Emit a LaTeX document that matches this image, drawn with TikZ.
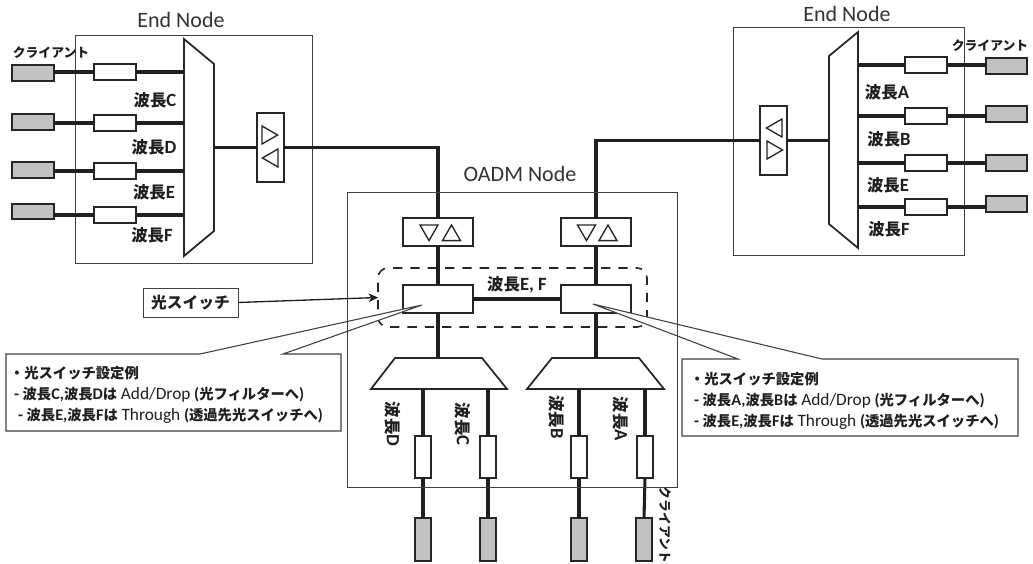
\documentclass[tikz,border=0pt]{standalone}
\usepackage{fontspec}
\setmainfont{Carlito}
\newfontfamily\jpfont[Scale=0.88]{Noto Sans CJK JP}
\usetikzlibrary{shapes.geometric, arrows, arrows.meta, positioning}
\newcommand{\jp}[1]{{\jpfont\bfseries #1}}
\newcommand{\latinnote}[1]{{\mdseries\fontsize{13}{15.6}\selectfont #1}}

\begin{document}
\begin{tikzpicture}[
    x=0.75pt, y=-0.75pt,
    every node/.style={inner sep=0pt, outer sep=0pt, align=center, text=black!88},
    title/.style={font=\fontsize{16.5}{20}\selectfont, text=black!80},
    framebox/.style={rectangle, draw=black!75, line width=0.7pt},
    clientbox/.style={rectangle, draw=black!85, fill=black!24, line width=1.5pt},
    filterbox/.style={rectangle, draw=black!85, fill=white, line width=1.3pt},
    ampbox/.style={rectangle, draw=black!85, fill=white, line width=1.3pt},
    tri/.style={regular polygon, regular polygon sides=3, inner sep=1pt, minimum size=15.6pt, draw=black!85, line width=1pt},
    muxshape/.style={draw=black!85, fill=white, line width=1.3pt},
    wave/.style={font=\bfseries\fontsize{14}{16}\selectfont},
    clientlabel/.style={font=\jpfont\bfseries\fontsize{10.9}{13}\selectfont},
    calloutbox/.style={draw=black!75, fill=white, line width=0.8pt},
    callouttext/.style={align=left, font=\bfseries\fontsize{12.2}{15.6}\selectfont},
    fiber/.style={draw=black!88, line width=2.3pt},
    arrow/.style={draw=black!88, line width=1pt, -{Stealth[length=7pt, width=6.5pt, inset=2pt]}}
]
\useasboundingbox (0,0) rectangle (1033,564);

% Frames of the three sites
\node[framebox, minimum width=177.75pt, minimum height=171pt] (endL) at (193.5,149) {};
\node[title] (titleL) at (181,20) {End Node};
\node[framebox, minimum width=173.25pt, minimum height=171pt] (endR) at (848.5,141) {};
\node[title] (titleR) at (847,14) {End Node};
\node[title] (titleM) at (520,174) {OADM Node};

% Left end node
\coordinate (muxLa) at (184,39);
\coordinate (muxLb) at (214,64);
\coordinate (muxLc) at (214,231);
\coordinate (muxLd) at (184,256);
\draw[muxshape] (muxLa) -- (muxLb) -- (muxLc) -- (muxLd) -- cycle;
\node[ampbox, minimum width=20.25pt, minimum height=51.75pt] (ampL) at (270.5,147.5) {};
\node[tri, rotate=-90] (triL1) at (267.2,135) {};
\node[tri, rotate=90] (triL2) at (272.8,158) {};
\node[filterbox, minimum width=31.5pt, minimum height=11.5pt] (filterL1) at (115,72) {};
\node[filterbox, minimum width=31.5pt, minimum height=11.5pt] (filterL2) at (115,123) {};
\node[filterbox, minimum width=31.5pt, minimum height=11.5pt] (filterL3) at (115,171) {};
\node[filterbox, minimum width=31.5pt, minimum height=11.5pt] (filterL4) at (115,215) {};
\node[clientbox, minimum width=31.5pt, minimum height=11.5pt, left=30pt of filterL1, yshift=-0.75pt] (clientL1) {};
\node[clientbox, minimum width=31.5pt, minimum height=11.5pt, left=30pt of filterL2, yshift=0.75pt] (clientL2) {};
\node[clientbox, minimum width=31.5pt, minimum height=11.5pt, left=30pt of filterL3, yshift=0.75pt] (clientL3) {};
\node[clientbox, minimum width=31.5pt, minimum height=11.5pt, left=30pt of filterL4, yshift=2.6pt] (clientL4) {};
\node[clientlabel] (clientlabelL) at (51,53) {クライアント};
\node[wave] (waveLC) at (155,100) {\jp{波長}C};
\node[wave] (waveLD) at (154,147) {\jp{波長}D};
\node[wave] (waveLE) at (154,192) {\jp{波長}E};
\node[wave] (waveLF) at (152,235) {\jp{波長}F};

% Right end node
\coordinate (muxRa) at (858,32);
\coordinate (muxRb) at (829,56);
\coordinate (muxRc) at (829,224);
\coordinate (muxRd) at (858,248);
\draw[muxshape] (muxRa) -- (muxRb) -- (muxRc) -- (muxRd) -- cycle;
\node[ampbox, minimum width=20.25pt, minimum height=51.75pt] (ampR) at (773.5,140.5) {};
\node[tri, rotate=90] (triR1) at (776.8,128) {};
\node[tri, rotate=-90] (triR2) at (772.2,150) {};
\node[filterbox, minimum width=31.5pt, minimum height=11.5pt] (filterR1) at (926,65) {};
\node[filterbox, minimum width=31.5pt, minimum height=11.5pt] (filterR2) at (926,116) {};
\node[filterbox, minimum width=31.5pt, minimum height=11.5pt] (filterR3) at (926,163) {};
\node[filterbox, minimum width=31.5pt, minimum height=11.5pt] (filterR4) at (926,207) {};
\node[clientbox, minimum width=31pt, minimum height=11.5pt, right=29.25pt of filterR1, yshift=-0.75pt] (clientR1) {};
\node[clientbox, minimum width=31pt, minimum height=11.5pt, right=29.25pt of filterR2, yshift=1.5pt] (clientR2) {};
\node[clientbox, minimum width=31pt, minimum height=11.5pt, right=29.25pt of filterR3] (clientR3) {};
\node[clientbox, minimum width=31pt, minimum height=11.5pt, right=29.25pt of filterR4, yshift=2.25pt] (clientR4) {};
\node[clientlabel] (clientlabelR) at (990,46) {クライアント};
\node[wave] (waveRA) at (887,92) {\jp{波長}A};
\node[wave] (waveRB) at (889,139) {\jp{波長}B};
\node[wave] (waveRE) at (888,185) {\jp{波長}E};
\node[wave] (waveRF) at (889,229) {\jp{波長}F};

% OADM node, the switches go under the callouts
\node[ampbox, minimum width=52.5pt, minimum height=21pt] (ampM1) at (438,232) {};
\node[ampbox, minimum width=52.5pt, minimum height=21pt, right=66pt of ampM1] (ampM2) {};
\node[tri, rotate=180] (triM1) at (429,230.2) {};
\node[tri] (triM2) at (451.5,235.4) {};
\node[tri, rotate=180] (triM3) at (586.5,230.2) {};
\node[tri] (triM4) at (608,235.4) {};
\node[rectangle, rounded corners=7.5pt, minimum width=201.75pt, minimum height=44.25pt, draw=black!85, line width=1.2pt, dash pattern=on 7pt off 6pt, dash phase=6pt] (dashM) at (512.5,297.5) {};
\node[ampbox, below=29.25pt of ampM1, minimum width=52.5pt, minimum height=21pt] (switchM1) {};
\node[ampbox, below=29.25pt of ampM2, minimum width=52.5pt, minimum height=21pt] (switchM2) {};
\node[wave] (waveMEF) at (517,285) {\jp{波長}E, F};
\coordinate (demuxM1a) at (395,358);
\coordinate (demuxM1b) at (482,358);
\coordinate (demuxM1c) at (507,389);
\coordinate (demuxM1d) at (371,389);
\coordinate (demuxM2a) at (552,358);
\coordinate (demuxM2b) at (639,358);
\coordinate (demuxM2c) at (664,389);
\coordinate (demuxM2d) at (527,389);
\draw[muxshape] (demuxM1a) -- (demuxM1b) -- (demuxM1c) -- (demuxM1d) -- cycle;
\draw[muxshape] (demuxM2a) -- (demuxM2b) -- (demuxM2c) -- (demuxM2d) -- cycle;
\node[filterbox, minimum width=12pt, minimum height=31.5pt] (filterMD) at (423,457) {};
\node[filterbox, minimum width=12pt, minimum height=31.5pt] (filterMC) at (488,457) {};
\node[filterbox, minimum width=12pt, minimum height=31.5pt] (filterMB) at (579,457) {};
\node[filterbox, minimum width=12pt, minimum height=31.5pt] (filterMA) at (645,457) {};
\node[clientbox, minimum width=12pt, minimum height=32pt, below=30pt of filterMD] (clientMD) {};
\node[clientbox, minimum width=12pt, minimum height=32pt, below=30pt of filterMC] (clientMC) {};
\node[clientbox, minimum width=12pt, minimum height=32pt, below=30pt of filterMB] (clientMB) {};
\node[clientbox, minimum width=12pt, minimum height=32pt, below=30pt of filterMA, xshift=-0.75pt] (clientMA) {};
\node[wave, rotate=-90] (waveMD) at (393,424) {\jp{波長}D};
\node[wave, rotate=-90] (waveMC) at (463,424) {\jp{波長}C};
\node[wave, rotate=-90] (waveMB) at (557,417) {\jp{波長}B};
\node[wave, rotate=-90] (waveMA) at (621,419) {\jp{波長}A};
\node[clientlabel, rotate=-90] (clientlabelM) at (665,525) {クライアント};

% Fibres
\draw[fiber] (clientL1.east |- filterL1.west) -- (filterL1.west);
\draw[fiber] (clientL2.east |- filterL2.west) -- (filterL2.west);
\draw[fiber] (clientL3.east |- filterL3.west) -- (filterL3.west);
\draw[fiber] (clientL4.east |- filterL4.west) -- (filterL4.west);
\draw[fiber] (filterL1.east) -- (filterL1.east -| muxLa);
\draw[fiber] (filterL2.east) -- (filterL2.east -| muxLa);
\draw[fiber] (filterL3.east) -- (filterL3.east -| muxLa);
\draw[fiber] (filterL4.east) -- (filterL4.east -| muxLa);
\draw[fiber] (ampL.west -| muxLb) -- (ampL.west);
\draw[fiber] (ampL.east) -| (ampM1.north);
\draw[fiber] (ampR.west) -| (ampM2.north);
\draw[fiber] (ampR.east) -- (ampR.east -| muxRb);
\draw[fiber] (filterR1.west) -- (filterR1.west -| muxRa);
\draw[fiber] (filterR2.west) -- (filterR2.west -| muxRa);
\draw[fiber] (filterR3.west) -- (filterR3.west -| muxRa);
\draw[fiber] (filterR4.west) -- (filterR4.west -| muxRa);
\draw[fiber] (filterR1.east) -- (filterR1.east -| clientR1.west);
\draw[fiber] (filterR2.east) -- (filterR2.east -| clientR2.west);
\draw[fiber] (filterR3.east) -- (filterR3.east -| clientR3.west);
\draw[fiber] (filterR4.east) -- (filterR4.east -| clientR4.west);
\draw[fiber] (ampM1.south) -- (switchM1.north);
\draw[fiber] (ampM2.south) -- (switchM2.north);
\draw[fiber] (switchM1.east) -- (switchM2.west);
\draw[fiber] (switchM1.south) -- (switchM1.south |- demuxM1a);
\draw[fiber] (switchM2.south) -- (switchM2.south |- demuxM2a);
\draw[fiber] (filterMD.north |- demuxM1c) -- (filterMD.north);
\draw[fiber] (filterMC.north |- demuxM1c) -- (filterMC.north);
\draw[fiber] (filterMB.north |- demuxM2c) -- (filterMB.north);
\draw[fiber] (filterMA.north |- demuxM2c) -- (filterMA.north);
\draw[fiber] (filterMD.south) -- (clientMD.north);
\draw[fiber] (filterMC.south) -- (clientMC.north);
\draw[fiber] (filterMB.south) -- (clientMB.north);
\draw[fiber] (filterMA.south) -- (clientMA.north);

% Callouts with their tails, they hide part of the dashed frame
\coordinate (tipL) at (422,305);
\coordinate (tipR) at (593,304);
\draw[calloutbox] (6,354) -- (200,354) -- (tipL) -- (283,354) -- (341,354) -- (341,431) -- (6,431) -- cycle;
\draw[calloutbox] (682,359) -- (738,359) -- (tipR) -- (822,359) -- (1018,359) -- (1018,436) -- (682,436) -- cycle;
\node[callouttext, anchor=west] (noteL) at (14,395) {\hspace*{-3pt}\jp{・光スイッチ設定例}\\- \jp{波長}C,\jp{波長}D\jp{は} \latinnote{Add/Drop} (\jp{光フィルターへ})\\\hspace*{3pt}- \jp{波長}E,\jp{波長}F\jp{は} \latinnote{Through} (\jp{透過先光スイッチへ})};
\node[callouttext, anchor=west] (noteR) at (694,401) {\hspace*{-3pt}\jp{・光スイッチ設定例}\\- \jp{波長}A,\jp{波長}B\jp{は} \latinnote{Add/Drop} (\jp{光フィルターへ})\\- \jp{波長}E,\jp{波長}F\jp{は} \latinnote{Through} (\jp{透過先光スイッチへ})};

% OADM frame stays visible through the tails
\node[framebox, minimum width=247.5pt, minimum height=221.25pt] (oadm) at (512,339.5) {};

% Switch label
\node[framebox, minimum width=71.25pt, minimum height=21.75pt, font=\jpfont\bfseries\fontsize{13.4}{15}\selectfont] (switchlabel) at (190.5,302.5) {光スイッチ};
\draw[arrow] (switchlabel.east) -- (dashM.west);

\end{tikzpicture}
\end{document}
